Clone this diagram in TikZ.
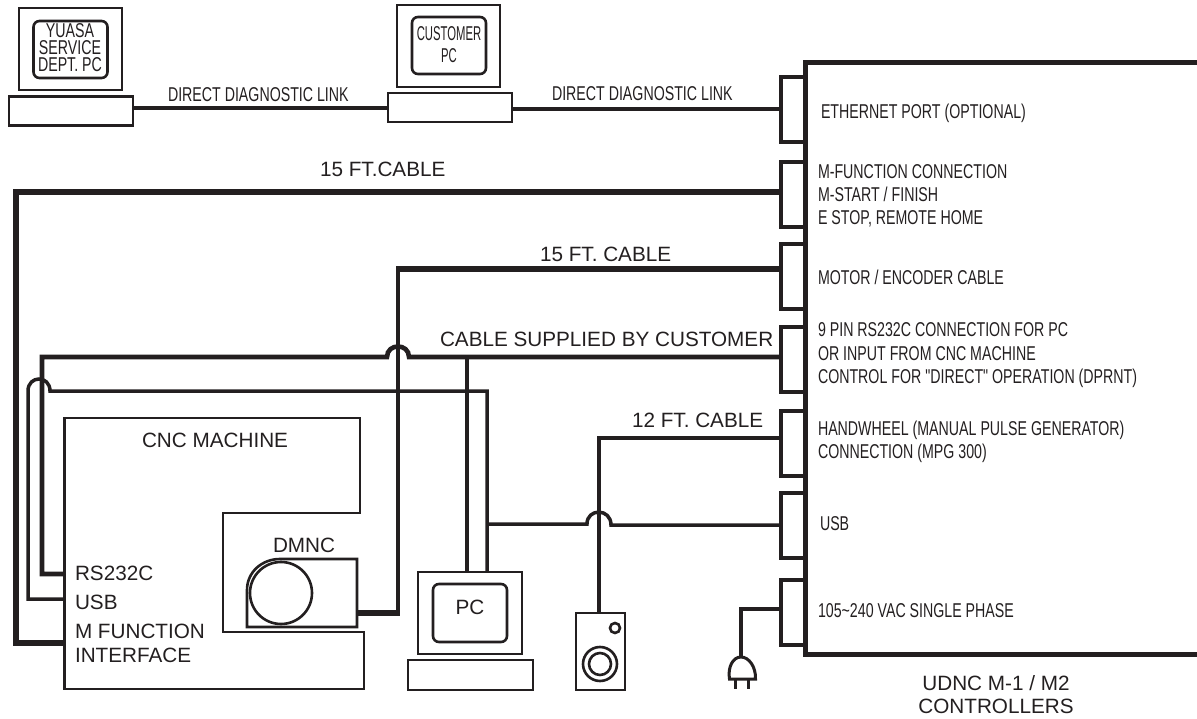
\documentclass[tikz,border=0pt]{standalone}
\usepackage{fontspec}
\setmainfont{Liberation Sans}
\newfontfamily\narrowfont[FakeStretch=0.71]{Liberation Sans}
\newfontfamily\tightfont[FakeStretch=0.565]{Liberation Sans}
\definecolor{ink}{HTML}{231F20}
\tikzset{
  x=1pt,y=-1pt,
  every path/.style={color=ink,line join=miter},
  cab/.style={draw=ink,line width=3.5pt},
  thickcab/.style={draw=ink,line width=5.2pt},
  outline/.style={draw=ink,line width=2.6pt},
  box/.style={draw=ink,line width=2.6pt,inner sep=0,outer sep=0,fill=white},
  portbox/.style={draw=ink,line width=4.2pt,inner sep=0,outer sep=0,minimum width=24pt,minimum height=65pt},
  screen/.style={box,rounded corners=6pt},
  lbl/.style={inner sep=0,outer sep=0,anchor=base,text=ink,font=\fontsize{20.7}{20.7}\selectfont},
  lbll/.style={lbl,anchor=base west},
  nar/.style={inner sep=0,outer sep=0,anchor=base west,text=ink,font=\fontsize{20}{20}\narrowfont},
  tight/.style={inner sep=0,outer sep=0,anchor=base,text=ink,font=\fontsize{20}{20}\tightfont},
  ring/.style={draw=ink,line width=2.6pt,circle,inner sep=0},
}
\begin{document}
\begin{tikzpicture}
\useasboundingbox (0,0) rectangle (1197,719);
% controller
\draw[line width=5pt] (1197,63) -- (805,63) -- (805,654) -- (1197,654);
\node[portbox] (eth) at (793,109.5) {};
\node[portbox] (mf) at (793,194.5) {};
\node[portbox] (motor) at (793,276.5) {};
\node[portbox] (rs) at (793,359.5) {};
\node[portbox] (hw) at (793,443.5) {};
\node[portbox] (usbp) at (793,525.5) {};
\node[portbox] (pow) at (793,612.5) {};
\coordinate (mfIn) at (781,192);
\coordinate (motorIn) at (781,269);
\coordinate (rsIn) at (781,357);
\coordinate (hwIn) at (781,438);
\coordinate (usbIn) at (781,525);
\coordinate (powIn) at (781,609);
% laptops
\node[box,minimum width=103pt,minimum height=82pt] (yscr) at (70.5,49) {};
\node[screen,minimum width=74pt,minimum height=57pt] (yin) at (70.5,49.5) {};
\node[box,minimum width=124pt,minimum height=29pt] (ybase) at (71,111) {};
\node[box,minimum width=103pt,minimum height=82pt] (cscr) at (448.5,46) {};
\node[screen,minimum width=74pt,minimum height=57pt] (cin) at (449,45.5) {};
\node[box,minimum width=124pt,minimum height=29pt] (cbase) at (450,107.5) {};
\coordinate (yOut) at (133,108);
\coordinate (cInL) at (388,108);
\coordinate (cOut) at (512,109.5);
\draw[cab,line width=4pt] (yOut) -- (cInL);
\draw[cab,line width=4pt] (cOut) -- (eth.west);
% CNC
\draw[outline] (64.5,418) -- (360,418) -- (360,513) -- (223,513) -- (223,632) -- (364,632) -- (364,689) -- (64.5,689) -- cycle;
\coordinate (cncRS) at (64.5,574);
\coordinate (cncUSB) at (64.5,599);
\coordinate (cncMF) at (64.5,643);
% DMNC
\draw[outline] (247,627) -- (247,590) .. controls (247,572) and (262,559) .. (280,559) -- (357,559) -- (357,627) -- cycle;
\node[ring,minimum size=62pt] (spindle) at (281,593) {};
\coordinate (dmOut) at (357,613);
\coordinate (dmBend) at (399.75,613);
\coordinate (motorBend) at (396.25,269);
% PC
\node[box,minimum width=104pt,minimum height=82pt] (pcs) at (470,613) {};
\node[screen,minimum width=74pt,minimum height=58pt] (pcin) at (470,613) {};
\node[box,minimum width=125pt,minimum height=30pt] (pcb) at (470.5,675) {};
\coordinate (pcA) at (467,572);
\coordinate (pcB) at (487,572);
% handwheel
\node[box,minimum width=49pt,minimum height=77pt] (spk) at (600.5,651.5) {};
\node[ring,minimum size=10pt] (spk1) at (615,628) {};
\node[ring,minimum size=34pt] (spk2) at (600,664) {};
\node[ring,minimum size=22pt] (spk3) at (600,664) {};
% plug
\coordinate (plugTop) at (741,657);
\draw[line width=3pt] (729.5,679) .. controls (727.5,667) and (733,657) .. (741,657) .. controls (749,657) and (756,667) .. (755.5,679) -- cycle;
\draw[line width=3pt] (735,679) -- (735,689) (748.5,679) -- (748.5,689);
% connectors
\draw[thickcab,line width=5.8pt] (mfIn) -- (16,192) -- (16,643) -- (cncMF);
\draw[cab] (398,615.6) -- (398,266.4);
\draw[thickcab] (dmOut) -- (dmBend);
\draw[thickcab] (motorBend) -- (motorIn);
\draw[thickcab,line width=4.6pt] (rsIn) -- (409,357) .. controls (409,343) and (387,343) .. (387,357) -- (42,357) -- (42,574) -- (cncRS);
\draw[cab] (pcA) -- (467,357);
\draw[cab] (pcB) -- (487,391) -- (50,391) .. controls (50,375) and (28,375) .. (28,391) -- (28,599) -- (cncUSB);
\draw[cab] (487,524) -- (587,524) .. controls (587,508) and (611,508) .. (611,525) -- (usbIn);
\draw[cab] (hwIn) -- (599,438) -- (599,613);
\draw[cab] (powIn) -- (741,609) -- (plugTop);
% labels
\node[inner sep=0,outer sep=0,text=ink,align=center,font=\fontsize{20}{17}\narrowfont] (t1) at (70,48) {YUASA\\SERVICE\\DEPT. PC};
\node[tight] (t4) at (449,41) {CUSTOMER};
\node[tight] (t5) at (449,63) {PC};
\node[nar] (l1) at (168,102) {DIRECT DIAGNOSTIC LINK};
\node[nar] (l2) at (552,101) {DIRECT DIAGNOSTIC LINK};
\node[lbll] (l3) at (320,177) {15 FT.CABLE};
\node[lbll] (l4) at (540,262) {15 FT. CABLE};
\node[lbll] (l5) at (440,347) {CABLE SUPPLIED BY CUSTOMER};
\node[lbll] (l6) at (632,427) {12 FT. CABLE};
\node[lbll] (l7) at (142,447) {CNC MACHINE};
\node[lbll] (l8) at (273,552) {DMNC};
\node[lbll] (l9) at (75,580) {RS232C};
\node[lbll] (l10) at (75,609) {USB};
\node[lbll] (l11) at (75,638) {M FUNCTION};
\node[lbll] (l12) at (75,662) {INTERFACE};
\node[lbl] (l13) at (470,614) {PC};
\node[lbl] (l14) at (996,690) {UDNC M-1 / M2};
\node[lbl] (l15) at (996,713) {CONTROLLERS};
\node[nar] (p1) at (821,119) {ETHERNET PORT (OPTIONAL)};
\node[nar] (p2) at (818,179) {M-FUNCTION CONNECTION};
\node[nar] (p3) at (818,202) {M-START / FINISH};
\node[nar] (p4) at (818,225) {E STOP, REMOTE HOME};
\node[nar] (p5) at (818,285) {MOTOR / ENCODER CABLE};
\node[nar] (p6) at (818,337) {9 PIN RS232C CONNECTION FOR PC};
\node[nar] (p7) at (818,360) {OR INPUT FROM CNC MACHINE};
\node[nar] (p8) at (818,383) {CONTROL FOR "DIRECT" OPERATION (DPRNT)};
\node[nar] (p9) at (818,435) {HANDWHEEL (MANUAL PULSE GENERATOR)};
\node[nar] (p10) at (818,458) {CONNECTION (MPG 300)};
\node[nar] (p11) at (820,530) {USB};
\node[nar] (p12) at (818,617) {105\textasciitilde240 VAC SINGLE PHASE};
\end{tikzpicture}
\end{document}
